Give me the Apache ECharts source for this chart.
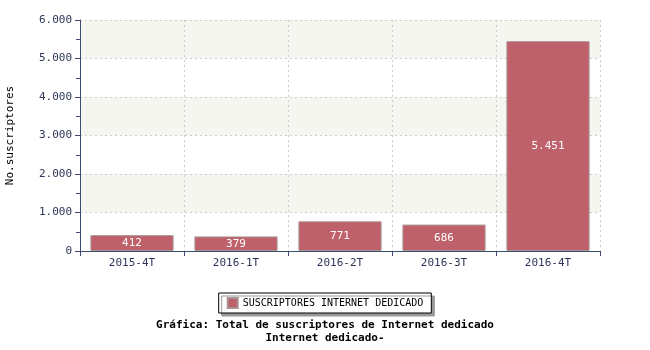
<!DOCTYPE html>
<html><head><meta charset="utf-8">
<script src="https://cdn.jsdelivr.net/npm/echarts@6/dist/echarts.min.js"></script>
<style>html,body{margin:0;padding:0;background:#fff}#c{width:650px;height:350px}</style>
</head><body><div id="c"></div>
<script>
var categories = ['2015-4T', '2016-1T', '2016-2T', '2016-3T', '2016-4T'];
var values = [412, 379, 771, 686, 5451];
var seriesName = 'SUSCRIPTORES INTERNET DEDICADO';
var yName = 'No.suscriptores';
var titleLines = ['Gráfica: Total de suscriptores de Internet dedicado', 'Internet dedicado-'];

function fmt(v) { return String(v).replace(/\B(?=(\d{3})+(?!\d))/g, '.'); }

var font = 'DejaVu Sans Mono';
var chart = echarts.init(document.getElementById('c'));
chart.setOption({
  animation: false,
  textStyle: { fontFamily: font },
  grid: { left: 80, right: 50, top: 20, bottom: 99, containLabel: false, outerBoundsMode: 'none' },
  title: {
    text: titleLines.join('\n'), left: 'center', top: 314,
    textStyle: { fontFamily: font, fontSize: 11, fontWeight: 'bold', color: '#000', lineHeight: 13 }
  },
  legend: {
    data: [seriesName], left: 'center', top: 293,
    itemWidth: 10, itemHeight: 10, itemGap: 5,
    padding: [4, 8, 4, 8],
    borderColor: '#000', borderWidth: 1, backgroundColor: '#fff',
    shadowColor: '#999', shadowOffsetX: 3, shadowOffsetY: 3, shadowBlur: 0,
    textStyle: { fontFamily: font, fontSize: 10, color: '#000' },
    icon: 'rect'
  },
  xAxis: {
    type: 'category', data: categories,
    axisLine: { lineStyle: { color: '#3f4b70' } },
    axisTick: { show: true, alignWithLabel: false, length: 5, lineStyle: { color: '#3f4b70' } },
    axisLabel: { color: '#2e3556', fontSize: 11, fontFamily: font, margin: 7 },
    splitLine: { show: true, lineStyle: { color: '#cccccc', type: [2, 3] } }
  },
  yAxis: {
    type: 'value', min: 0, max: 6000, interval: 1000,
    name: yName, nameLocation: 'middle', nameGap: 64, nameRotate: 90,
    nameTextStyle: { fontFamily: font, fontSize: 11, color: '#000' },
    axisLine: { show: true, lineStyle: { color: '#3f4b70' } },
    axisTick: { show: true, length: 5, lineStyle: { color: '#3f4b70' } },
    minorTick: { show: true, splitNumber: 2, length: 4, lineStyle: { color: '#3f4b70' } },
    axisLabel: { color: '#2e3556', fontSize: 11, fontFamily: font, margin: 8, formatter: fmt },
    splitLine: { show: true, lineStyle: { color: '#cccccc', type: [2, 3] } },
    splitArea: { show: true, areaStyle: { color: ['#ffffff', '#f6f6f1'] } }
  },
  series: [{
    name: seriesName, type: 'bar', data: values,
    barCategoryGap: '20%',
    itemStyle: { color: '#bf616b', borderColor: '#a89495', borderWidth: 1 },
    label: { show: true, position: 'inside', color: '#fff', fontFamily: font, fontSize: 11, formatter: function (p) { return fmt(p.value); } }
  }]
});
</script></body></html>
